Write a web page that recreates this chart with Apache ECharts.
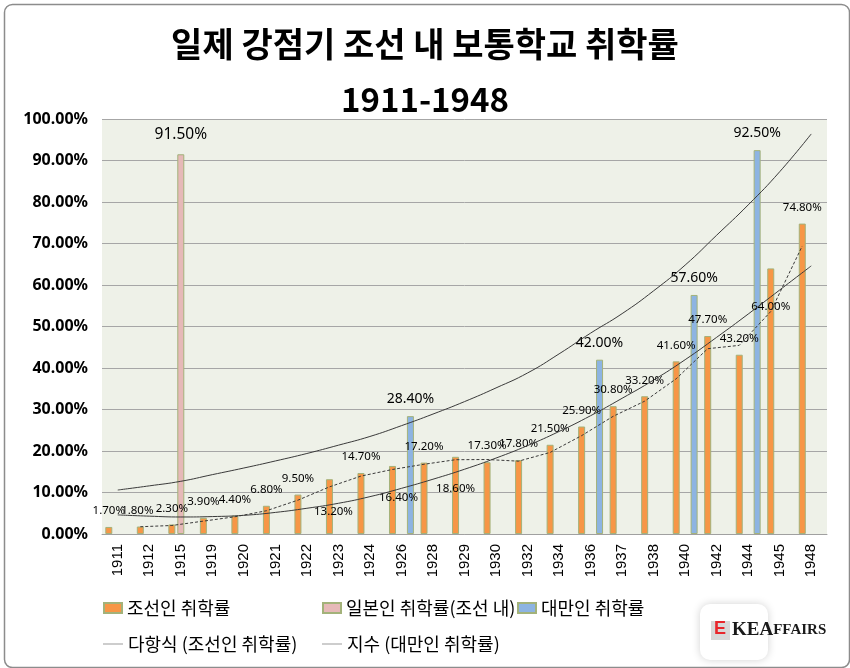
<!DOCTYPE html>
<html>
<head>
<meta charset="utf-8">
<script src="https://cdn.jsdelivr.net/npm/echarts@6/dist/echarts.min.js"></script>
<style>
html,body{margin:0;padding:0;background:#fff;}
#chart{width:850px;height:668px;}
</style>
</head>
<body>
<div id="chart"></div>
<script>
// ---- data (percent) ----
const years = ['1911','1912','1915','1919','1920','1921','1922','1923','1924','1926','1928','1929','1930','1932','1934','1936','1937','1938','1940','1942','1944','1945','1948'];
const koreanRate = [1.7,1.8,2.3,3.9,4.4,6.8,9.5,13.2,14.7,16.4,17.2,18.6,17.3,17.8,21.5,25.9,30.8,33.2,41.6,47.7,43.2,64.0,74.8];
const japaneseRate = [null,null,91.5,null,null,null,null,null,null,null,null,null,null,null,null,null,null,null,null,null,null,null,null];
const taiwanRate = [null,null,null,null,null,null,null,null,null,28.4,null,null,null,null,null,42.0,null,null,57.6,null,92.5,null,null];
// trend lines
const polyTrendKorean = [4.6,4.3,4.1,4.2,4.5,5.2,6.2,7.4,9.0,11.0,13.2,15.6,18.3,21.3,24.7,28.5,32.7,37.1,42.0,47.4,53.0,58.8,64.6];
const expTrendTaiwan = [10.6,11.6,12.7,14.3,15.9,17.6,19.4,21.4,23.5,26.1,28.9,31.9,35.2,38.8,43.4,48.4,53.1,58.6,64.8,72.0,79.3,87.3,96.4];
const movingAvgKorean = [null,1.75,2.05,3.1,4.15,5.6,8.15,11.35,13.95,15.55,16.8,17.9,17.95,17.55,19.65,23.7,28.35,32.0,37.4,44.65,45.45,53.6,69.4];
const yTicks = [0,10,20,30,40,50,60,70,80,90,100];

const seriesNames = ['조선인 취학률','일본인 취학률(조선 내)','대만인 취학률','다항식 (조선인 취학률)','지수 (대만인 취학률)'];

// ---- presentation ----
const chart = echarts.init(document.getElementById('chart'));
const pct = v => v.toFixed(2) + '%';
const koreanLabelShift = {7:[4,48], 9:[6,48], 11:[0,48], 21:[0,54], 1:[-3,0]};
const korData = koreanRate.map((v,i) => {
  const s = koreanLabelShift[i];
  return s ? {value:v, label:{offset:s}} : v;
});
const barBorder = '#a3b27a';
const lab = {show:true, position:'top', distance:10, color:'#000', fontFamily:'Noto Sans', formatter:p=>pct(p.value)};
const G = {left:102, right:23, top:119, bottom:134};
const legText = {fontFamily:'Noto Sans CJK KR', fontSize:18, color:'#000'};

const option = {
  animation:false,
  backgroundColor:'#ffffff',
  title:[
    {text:'일제 강점기 조선 내 보통학교 취학률', left:'center', top:22,
     textStyle:{fontFamily:'Noto Sans CJK KR', fontWeight:'bold', fontSize:34, color:'#000'}},
    {text:'1911-1948', left:'center', top:78,
     textStyle:{fontFamily:'Noto Sans CJK KR', fontWeight:'bold', fontSize:33, color:'#000'}}
  ],
  legend:[
    {data:[seriesNames[0]], left:98, top:594, icon:'rect', itemWidth:18, itemHeight:10,
     textStyle:legText},
    {data:[seriesNames[1]], left:317, top:594, icon:'rect', itemWidth:18, itemHeight:10,
     textStyle:legText},
    {data:[seriesNames[2]], left:512, top:594, icon:'rect', itemWidth:18, itemHeight:10,
     textStyle:legText},
    {data:[{name:seriesNames[3], itemStyle:{color:'#9a9a9a'}}], left:98, top:630, icon:'rect', itemWidth:20, itemHeight:1,
     textStyle:legText},
    {data:[{name:seriesNames[4], itemStyle:{color:'#9a9a9a'}}], left:317, top:630, icon:'rect', itemWidth:20, itemHeight:1,
     textStyle:legText}
  ],
  grid:[
    Object.assign({backgroundColor:'#eef1e8', show:true, borderWidth:0}, G),
    {left:G.left-9, right:G.right+9, top:G.top, bottom:G.bottom}
  ],
  xAxis:[
    {type:'category', data:years, gridIndex:0,
     axisLine:{lineStyle:{color:'#a0a0a0'}}, axisTick:{show:false},
     axisLabel:{rotate:90, margin:10, fontFamily:'Liberation Sans', fontSize:15, color:'#000'}},
    {type:'category', data:years, gridIndex:1, show:false}
  ],
  yAxis:[
    {type:'value', gridIndex:0, min:0, max:100, interval:10,
     axisLine:{show:false}, axisTick:{show:false},
     splitLine:{lineStyle:{color:'#a6a6a6', width:1}},
     axisLabel:{margin:14, fontFamily:'Noto Sans', fontWeight:'bold', fontSize:16, color:'#000',
       formatter:v => yTicks.includes(v) ? v.toFixed(2)+'%' : ''}},
    {type:'value', gridIndex:1, min:0, max:100, show:false}
  ],
  series:[
    {name:seriesNames[0], type:'bar', data:korData, barWidth:7, barGap:'28%',
     itemStyle:{color:'#f79646', borderColor:barBorder, borderWidth:1},
     label:Object.assign({}, lab, {fontSize:11.5}), z:2},
    {name:seriesNames[1], type:'bar', data:japaneseRate, barWidth:7, barGap:'28%',
     itemStyle:{color:'#e6b9b8', borderColor:barBorder, borderWidth:1},
     label:Object.assign({}, lab, {fontSize:15.5, distance:12}), z:2},
    {name:seriesNames[2], type:'bar', data:taiwanRate, barWidth:7, barGap:'28%',
     itemStyle:{color:'#8db4e2', borderColor:barBorder, borderWidth:1},
     label:Object.assign({}, lab, {fontSize:14}), z:2},
    {name:seriesNames[3], type:'line', data:polyTrendKorean, smooth:true, symbol:'none',
     lineStyle:{color:'#3a3a3a', width:1}, itemStyle:{color:'#9a9a9a'}, z:3},
    {name:seriesNames[4], type:'line', data:expTrendTaiwan, smooth:true, symbol:'none',
     lineStyle:{color:'#3a3a3a', width:1}, itemStyle:{color:'#9a9a9a'}, z:3},
    {name:'이동 평균', type:'line', data:movingAvgKorean, xAxisIndex:1, yAxisIndex:1, symbol:'none',
     connectNulls:false, lineStyle:{color:'#3a3a3a', width:1, type:[3,2]}, z:3}
  ],
  graphic:[
    {type:'rect', left:2, top:2, shape:{width:845, height:663, r:8}, silent:true, z:-1,
     style:{fill:'none', stroke:'#8c8c8c', lineWidth:1.5}},
    {type:'rect', left:700, top:604, shape:{width:68, height:56, r:10}, silent:true,
     style:{fill:'#ffffff', shadowBlur:8, shadowColor:'rgba(0,0,0,0.18)'}},
    {type:'rect', left:711, top:621, shape:{width:19, height:19}, silent:true,
     style:{fill:'#d8d8d8'}},
    {type:'text', left:714, top:620, silent:true,
     style:{text:'E', fill:'#e8262b', font:'bold 18px "Liberation Sans"'}},
    {type:'text', left:732, top:621, silent:true,
     style:{text:'{a|KE}{a|A}{b|FFAIRS}', rich:{
       a:{fontFamily:'Liberation Serif', fontWeight:'bold', fontSize:19, fill:'#1a1a1a', color:'#1a1a1a'},
       b:{fontFamily:'Liberation Serif', fontWeight:'bold', fontSize:15, fill:'#1a1a1a', color:'#1a1a1a'}}}}
  ]
};
chart.setOption(option);
</script>
</body>
</html>
